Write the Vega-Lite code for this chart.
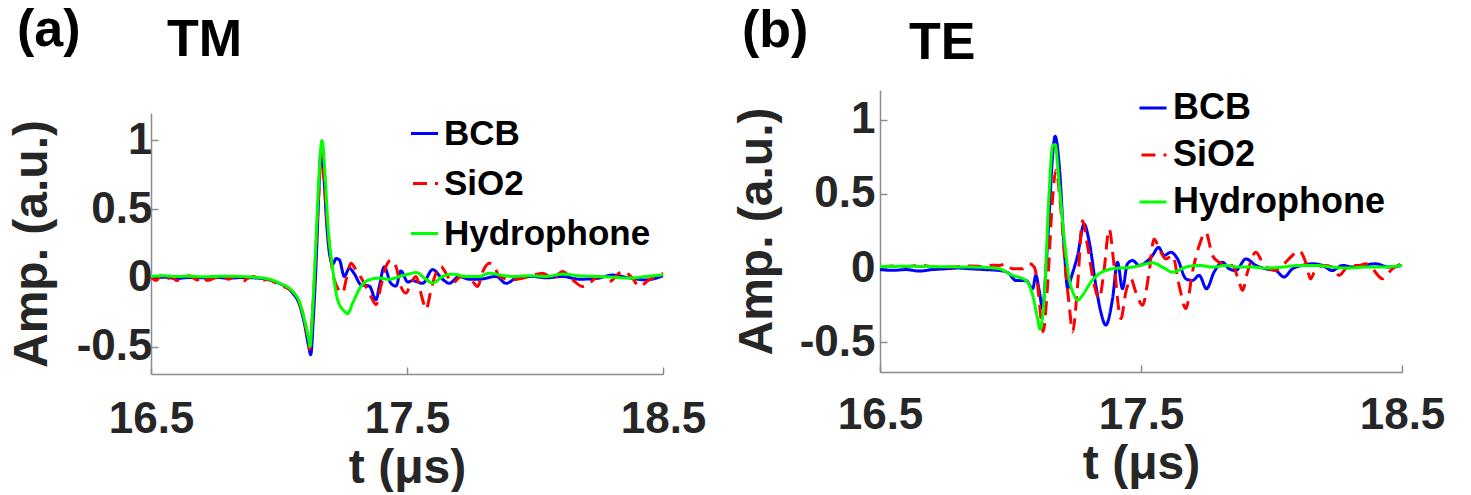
{
  "$schema": "https://vega.github.io/schema/vega-lite/v6.json",
  "background": "white",
  "padding": {"left": 8, "top": 3, "right": 0, "bottom": 0},
  "config": {
    "font": "Liberation Sans",
    "view": {"stroke": null},
    "axis": {"grid": false, "domainColor": "#8c8c8c", "domainWidth": 1.5, "tickColor": "#8c8c8c", "tickWidth": 1.5, "tickSize": -7, "labelFont": "Liberation Sans", "labelFontWeight": "bold", "labelFontSize": 44, "labelColor": "#262626", "titleFont": "Liberation Sans", "titleFontWeight": "bold", "titleFontSize": 48, "titleColor": "#262626", "labelFlush": false},
    "title": {"font": "Liberation Sans", "fontWeight": "bold", "fontSize": 52, "color": "#000000", "anchor": "start", "frame": "group", "baseline": "alphabetic"},
    "legend": {"symbolType": "stroke", "symbolSize": 729, "symbolStrokeWidth": 3, "symbolDashOffset": 20, "labelFont": "Liberation Sans", "labelFontWeight": "bold", "labelColor": "#000000", "labelOffset": 2, "labelLimit": 400, "padding": 0, "orient": "none"}
  },
  "datasets": {
    "tm": [
      {"s":"BCB","t":16.5,"v":0.0},{"s":"BCB","t":16.55,"v":0.005},{"s":"BCB","t":16.6,"v":-0.005},{"s":"BCB","t":16.65,"v":0.003},{"s":"BCB","t":16.7,"v":0.0},{"s":"BCB","t":16.75,"v":0.005},{"s":"BCB","t":16.8,"v":-0.003},{"s":"BCB","t":16.85,"v":0.002},{"s":"BCB","t":16.9,"v":0.0},{"s":"BCB","t":16.95,"v":-0.01},{"s":"BCB","t":16.98,"v":-0.025},{"s":"BCB","t":17.001,"v":-0.04},{"s":"BCB","t":17.053,"v":-0.11},{"s":"BCB","t":17.079,"v":-0.19},{"s":"BCB","t":17.099,"v":-0.33},{"s":"BCB","t":17.116,"v":-0.5},{"s":"BCB","t":17.124,"v":-0.56},{"s":"BCB","t":17.134,"v":-0.3},{"s":"BCB","t":17.147,"v":0.2},{"s":"BCB","t":17.155,"v":0.6},{"s":"BCB","t":17.164,"v":0.93},{"s":"BCB","t":17.175,"v":0.75},{"s":"BCB","t":17.186,"v":0.4},{"s":"BCB","t":17.197,"v":0.178},{"s":"BCB","t":17.21,"v":0.1},{"s":"BCB","t":17.223,"v":0.14},{"s":"BCB","t":17.236,"v":0.13},{"s":"BCB","t":17.255,"v":0.01},{"s":"BCB","t":17.275,"v":0.07},{"s":"BCB","t":17.294,"v":0.03},{"s":"BCB","t":17.32,"v":-0.05},{"s":"BCB","t":17.353,"v":-0.06},{"s":"BCB","t":17.379,"v":-0.16},{"s":"BCB","t":17.392,"v":-0.06},{"s":"BCB","t":17.411,"v":0.08},{"s":"BCB","t":17.437,"v":-0.04},{"s":"BCB","t":17.457,"v":-0.06},{"s":"BCB","t":17.476,"v":0.05},{"s":"BCB","t":17.503,"v":-0.03},{"s":"BCB","t":17.522,"v":-0.02},{"s":"BCB","t":17.561,"v":-0.04},{"s":"BCB","t":17.6,"v":0.06},{"s":"BCB","t":17.639,"v":-0.01},{"s":"BCB","t":17.665,"v":-0.04},{"s":"BCB","t":17.704,"v":0.01},{"s":"BCB","t":17.743,"v":-0.01},{"s":"BCB","t":17.782,"v":-0.01},{"s":"BCB","t":17.848,"v":0.01},{"s":"BCB","t":17.887,"v":-0.04},{"s":"BCB","t":17.939,"v":0.01},{"s":"BCB","t":17.991,"v":0.01},{"s":"BCB","t":18.043,"v":0.0},{"s":"BCB","t":18.108,"v":0.01},{"s":"BCB","t":18.173,"v":-0.01},{"s":"BCB","t":18.238,"v":-0.005},{"s":"BCB","t":18.303,"v":0.02},{"s":"BCB","t":18.368,"v":0.0},{"s":"BCB","t":18.434,"v":-0.015},{"s":"BCB","t":18.5,"v":0.015},
      {"s":"SiO2","t":16.5,"v":0.01},{"s":"SiO2","t":16.52,"v":-0.02},{"s":"SiO2","t":16.54,"v":0.02},{"s":"SiO2","t":16.56,"v":-0.01},{"s":"SiO2","t":16.58,"v":0.01},{"s":"SiO2","t":16.6,"v":-0.02},{"s":"SiO2","t":16.62,"v":0.0},{"s":"SiO2","t":16.65,"v":0.015},{"s":"SiO2","t":16.68,"v":-0.015},{"s":"SiO2","t":16.7,"v":0.01},{"s":"SiO2","t":16.72,"v":-0.02},{"s":"SiO2","t":16.75,"v":0.0},{"s":"SiO2","t":16.78,"v":0.02},{"s":"SiO2","t":16.8,"v":-0.01},{"s":"SiO2","t":16.83,"v":0.01},{"s":"SiO2","t":16.86,"v":-0.025},{"s":"SiO2","t":16.88,"v":0.0},{"s":"SiO2","t":16.9,"v":0.01},{"s":"SiO2","t":16.93,"v":-0.02},{"s":"SiO2","t":16.96,"v":-0.01},{"s":"SiO2","t":16.98,"v":-0.03},{"s":"SiO2","t":17.001,"v":-0.05},{"s":"SiO2","t":17.053,"v":-0.1},{"s":"SiO2","t":17.079,"v":-0.18},{"s":"SiO2","t":17.099,"v":-0.3},{"s":"SiO2","t":17.116,"v":-0.48},{"s":"SiO2","t":17.12,"v":-0.52},{"s":"SiO2","t":17.131,"v":-0.25},{"s":"SiO2","t":17.144,"v":0.2},{"s":"SiO2","t":17.155,"v":0.6},{"s":"SiO2","t":17.167,"v":0.92},{"s":"SiO2","t":17.177,"v":0.7},{"s":"SiO2","t":17.186,"v":0.45},{"s":"SiO2","t":17.197,"v":0.23},{"s":"SiO2","t":17.216,"v":-0.015},{"s":"SiO2","t":17.249,"v":-0.11},{"s":"SiO2","t":17.262,"v":-0.015},{"s":"SiO2","t":17.281,"v":0.106},{"s":"SiO2","t":17.301,"v":0.058},{"s":"SiO2","t":17.333,"v":-0.04},{"s":"SiO2","t":17.359,"v":-0.135},{"s":"SiO2","t":17.379,"v":-0.195},{"s":"SiO2","t":17.398,"v":-0.06},{"s":"SiO2","t":17.418,"v":0.082},{"s":"SiO2","t":17.437,"v":0.13},{"s":"SiO2","t":17.457,"v":0.082},{"s":"SiO2","t":17.476,"v":-0.063},{"s":"SiO2","t":17.496,"v":-0.11},{"s":"SiO2","t":17.516,"v":-0.038},{"s":"SiO2","t":17.535,"v":0.01},{"s":"SiO2","t":17.561,"v":-0.16},{"s":"SiO2","t":17.574,"v":-0.23},{"s":"SiO2","t":17.594,"v":-0.087},{"s":"SiO2","t":17.613,"v":0.034},{"s":"SiO2","t":17.633,"v":0.082},{"s":"SiO2","t":17.652,"v":0.034},{"s":"SiO2","t":17.678,"v":-0.038},{"s":"SiO2","t":17.711,"v":0.01},{"s":"SiO2","t":17.75,"v":-0.014},{"s":"SiO2","t":17.776,"v":-0.063},{"s":"SiO2","t":17.796,"v":0.046},{"s":"SiO2","t":17.822,"v":0.106},{"s":"SiO2","t":17.841,"v":0.082},{"s":"SiO2","t":17.861,"v":0.01},{"s":"SiO2","t":17.913,"v":-0.014},{"s":"SiO2","t":17.978,"v":0.01},{"s":"SiO2","t":18.03,"v":0.034},{"s":"SiO2","t":18.069,"v":-0.002},{"s":"SiO2","t":18.108,"v":0.046},{"s":"SiO2","t":18.147,"v":-0.014},{"s":"SiO2","t":18.186,"v":-0.063},{"s":"SiO2","t":18.212,"v":-0.038},{"s":"SiO2","t":18.251,"v":0.01},{"s":"SiO2","t":18.29,"v":-0.026},{"s":"SiO2","t":18.342,"v":0.046},{"s":"SiO2","t":18.381,"v":-0.002},{"s":"SiO2","t":18.407,"v":-0.063},{"s":"SiO2","t":18.446,"v":-0.014},{"s":"SiO2","t":18.5,"v":0.034},
      {"s":"Hydrophone","t":16.5,"v":0.01},{"s":"Hydrophone","t":16.55,"v":0.015},{"s":"Hydrophone","t":16.6,"v":0.01},{"s":"Hydrophone","t":16.65,"v":0.012},{"s":"Hydrophone","t":16.7,"v":0.008},{"s":"Hydrophone","t":16.75,"v":0.01},{"s":"Hydrophone","t":16.8,"v":0.012},{"s":"Hydrophone","t":16.85,"v":0.01},{"s":"Hydrophone","t":16.9,"v":0.005},{"s":"Hydrophone","t":16.95,"v":-0.005},{"s":"Hydrophone","t":16.98,"v":-0.02},{"s":"Hydrophone","t":17.001,"v":-0.038},{"s":"Hydrophone","t":17.053,"v":-0.099},{"s":"Hydrophone","t":17.079,"v":-0.171},{"s":"Hydrophone","t":17.099,"v":-0.303},{"s":"Hydrophone","t":17.116,"v":-0.447},{"s":"Hydrophone","t":17.121,"v":-0.5},{"s":"Hydrophone","t":17.131,"v":-0.25},{"s":"Hydrophone","t":17.144,"v":0.25},{"s":"Hydrophone","t":17.155,"v":0.7},{"s":"Hydrophone","t":17.168,"v":1.0},{"s":"Hydrophone","t":17.18,"v":0.75},{"s":"Hydrophone","t":17.19,"v":0.418},{"s":"Hydrophone","t":17.21,"v":0.058},{"s":"Hydrophone","t":17.229,"v":-0.159},{"s":"Hydrophone","t":17.255,"v":-0.243},{"s":"Hydrophone","t":17.268,"v":-0.26},{"s":"Hydrophone","t":17.288,"v":-0.183},{"s":"Hydrophone","t":17.32,"v":-0.063},{"s":"Hydrophone","t":17.353,"v":-0.014},{"s":"Hydrophone","t":17.392,"v":-0.002},{"s":"Hydrophone","t":17.431,"v":-0.01},{"s":"Hydrophone","t":17.47,"v":0.01},{"s":"Hydrophone","t":17.509,"v":0.029},{"s":"Hydrophone","t":17.535,"v":0.039},{"s":"Hydrophone","t":17.574,"v":-0.01},{"s":"Hydrophone","t":17.6,"v":-0.038},{"s":"Hydrophone","t":17.639,"v":0.01},{"s":"Hydrophone","t":17.678,"v":0.027},{"s":"Hydrophone","t":17.73,"v":0.01},{"s":"Hydrophone","t":17.782,"v":0.01},{"s":"Hydrophone","t":17.822,"v":0.034},{"s":"Hydrophone","t":17.861,"v":0.022},{"s":"Hydrophone","t":17.913,"v":0.01},{"s":"Hydrophone","t":17.978,"v":0.015},{"s":"Hydrophone","t":18.043,"v":0.01},{"s":"Hydrophone","t":18.108,"v":0.027},{"s":"Hydrophone","t":18.173,"v":0.015},{"s":"Hydrophone","t":18.238,"v":0.01},{"s":"Hydrophone","t":18.303,"v":0.005},{"s":"Hydrophone","t":18.368,"v":-0.002},{"s":"Hydrophone","t":18.434,"v":0.01},{"s":"Hydrophone","t":18.5,"v":0.022}
    ],
    "te": [
      {"s":"BCB","t":16.5,"v":-0.01},{"s":"BCB","t":16.55,"v":-0.015},{"s":"BCB","t":16.6,"v":-0.01},{"s":"BCB","t":16.65,"v":-0.02},{"s":"BCB","t":16.7,"v":-0.01},{"s":"BCB","t":16.75,"v":-0.005},{"s":"BCB","t":16.8,"v":0.0},{"s":"BCB","t":16.85,"v":-0.005},{"s":"BCB","t":16.9,"v":-0.01},{"s":"BCB","t":16.957,"v":-0.016},{"s":"BCB","t":16.989,"v":-0.03},{"s":"BCB","t":17.021,"v":-0.083},{"s":"BCB","t":17.059,"v":-0.083},{"s":"BCB","t":17.085,"v":-0.139},{"s":"BCB","t":17.097,"v":-0.049},{"s":"BCB","t":17.11,"v":-0.15},{"s":"BCB","t":17.123,"v":-0.273},{"s":"BCB","t":17.136,"v":0.0},{"s":"BCB","t":17.148,"v":0.353},{"s":"BCB","t":17.161,"v":0.75},{"s":"BCB","t":17.171,"v":0.888},{"s":"BCB","t":17.187,"v":0.687},{"s":"BCB","t":17.206,"v":0.129},{"s":"BCB","t":17.219,"v":-0.139},{"s":"BCB","t":17.231,"v":-0.072},{"s":"BCB","t":17.257,"v":0.085},{"s":"BCB","t":17.282,"v":0.297},{"s":"BCB","t":17.302,"v":0.174},{"s":"BCB","t":17.327,"v":-0.116},{"s":"BCB","t":17.346,"v":-0.295},{"s":"BCB","t":17.365,"v":-0.384},{"s":"BCB","t":17.391,"v":-0.206},{"s":"BCB","t":17.41,"v":0.04},{"s":"BCB","t":17.429,"v":-0.139},{"s":"BCB","t":17.448,"v":0.029},{"s":"BCB","t":17.468,"v":0.051},{"s":"BCB","t":17.493,"v":0.018},{"s":"BCB","t":17.519,"v":0.04},{"s":"BCB","t":17.544,"v":0.085},{"s":"BCB","t":17.567,"v":0.14},{"s":"BCB","t":17.589,"v":0.085},{"s":"BCB","t":17.614,"v":0.107},{"s":"BCB","t":17.64,"v":0.062},{"s":"BCB","t":17.672,"v":-0.072},{"s":"BCB","t":17.697,"v":-0.083},{"s":"BCB","t":17.723,"v":-0.049},{"s":"BCB","t":17.751,"v":-0.139},{"s":"BCB","t":17.78,"v":-0.027},{"s":"BCB","t":17.812,"v":0.04},{"s":"BCB","t":17.838,"v":-0.005},{"s":"BCB","t":17.863,"v":-0.016},{"s":"BCB","t":17.902,"v":0.062},{"s":"BCB","t":17.94,"v":0.018},{"s":"BCB","t":17.978,"v":-0.005},{"s":"BCB","t":18.016,"v":-0.016},{"s":"BCB","t":18.048,"v":-0.06},{"s":"BCB","t":18.08,"v":-0.005},{"s":"BCB","t":18.118,"v":0.018},{"s":"BCB","t":18.157,"v":0.029},{"s":"BCB","t":18.195,"v":0.018},{"s":"BCB","t":18.233,"v":-0.016},{"s":"BCB","t":18.272,"v":0.018},{"s":"BCB","t":18.31,"v":0.007},{"s":"BCB","t":18.348,"v":0.018},{"s":"BCB","t":18.399,"v":0.029},{"s":"BCB","t":18.45,"v":0.007},{"s":"BCB","t":18.5,"v":0.018},
      {"s":"SiO2","t":16.5,"v":0.01},{"s":"SiO2","t":16.55,"v":0.015},{"s":"SiO2","t":16.6,"v":0.01},{"s":"SiO2","t":16.65,"v":0.02},{"s":"SiO2","t":16.7,"v":0.01},{"s":"SiO2","t":16.75,"v":0.005},{"s":"SiO2","t":16.8,"v":0.01},{"s":"SiO2","t":16.85,"v":0.015},{"s":"SiO2","t":16.9,"v":0.01},{"s":"SiO2","t":16.93,"v":0.02},{"s":"SiO2","t":16.957,"v":0.018},{"s":"SiO2","t":16.983,"v":0.029},{"s":"SiO2","t":17.008,"v":-0.005},{"s":"SiO2","t":17.046,"v":-0.005},{"s":"SiO2","t":17.072,"v":0.029},{"s":"SiO2","t":17.091,"v":0.007},{"s":"SiO2","t":17.104,"v":-0.116},{"s":"SiO2","t":17.117,"v":-0.34},{"s":"SiO2","t":17.125,"v":-0.429},{"s":"SiO2","t":17.142,"v":-0.116},{"s":"SiO2","t":17.161,"v":0.464},{"s":"SiO2","t":17.174,"v":0.66},{"s":"SiO2","t":17.193,"v":0.397},{"s":"SiO2","t":17.212,"v":-0.027},{"s":"SiO2","t":17.225,"v":-0.25},{"s":"SiO2","t":17.238,"v":-0.429},{"s":"SiO2","t":17.257,"v":-0.116},{"s":"SiO2","t":17.276,"v":0.319},{"s":"SiO2","t":17.295,"v":0.152},{"s":"SiO2","t":17.321,"v":-0.116},{"s":"SiO2","t":17.34,"v":-0.206},{"s":"SiO2","t":17.359,"v":-0.005},{"s":"SiO2","t":17.378,"v":0.263},{"s":"SiO2","t":17.397,"v":0.018},{"s":"SiO2","t":17.423,"v":-0.34},{"s":"SiO2","t":17.442,"v":-0.161},{"s":"SiO2","t":17.461,"v":-0.072},{"s":"SiO2","t":17.48,"v":-0.161},{"s":"SiO2","t":17.506,"v":-0.25},{"s":"SiO2","t":17.531,"v":-0.027},{"s":"SiO2","t":17.55,"v":0.196},{"s":"SiO2","t":17.57,"v":0.129},{"s":"SiO2","t":17.595,"v":0.062},{"s":"SiO2","t":17.621,"v":0.085},{"s":"SiO2","t":17.646,"v":-0.116},{"s":"SiO2","t":17.672,"v":-0.273},{"s":"SiO2","t":17.697,"v":-0.027},{"s":"SiO2","t":17.723,"v":0.152},{"s":"SiO2","t":17.748,"v":0.241},{"s":"SiO2","t":17.774,"v":0.085},{"s":"SiO2","t":17.799,"v":0.04},{"s":"SiO2","t":17.825,"v":0.018},{"s":"SiO2","t":17.85,"v":0.018},{"s":"SiO2","t":17.876,"v":-0.094},{"s":"SiO2","t":17.889,"v":-0.15},{"s":"SiO2","t":17.908,"v":-0.027},{"s":"SiO2","t":17.94,"v":0.107},{"s":"SiO2","t":17.965,"v":0.04},{"s":"SiO2","t":17.991,"v":-0.005},{"s":"SiO2","t":18.016,"v":-0.016},{"s":"SiO2","t":18.042,"v":0.018},{"s":"SiO2","t":18.08,"v":0.085},{"s":"SiO2","t":18.106,"v":0.118},{"s":"SiO2","t":18.131,"v":0.04},{"s":"SiO2","t":18.15,"v":-0.072},{"s":"SiO2","t":18.17,"v":-0.005},{"s":"SiO2","t":18.208,"v":0.018},{"s":"SiO2","t":18.233,"v":0.007},{"s":"SiO2","t":18.259,"v":-0.049},{"s":"SiO2","t":18.297,"v":0.018},{"s":"SiO2","t":18.335,"v":0.018},{"s":"SiO2","t":18.361,"v":0.029},{"s":"SiO2","t":18.387,"v":-0.005},{"s":"SiO2","t":18.425,"v":-0.072},{"s":"SiO2","t":18.463,"v":-0.005},{"s":"SiO2","t":18.5,"v":0.029},
      {"s":"Hydrophone","t":16.5,"v":0.01},{"s":"Hydrophone","t":16.6,"v":0.012},{"s":"Hydrophone","t":16.7,"v":0.01},{"s":"Hydrophone","t":16.8,"v":0.008},{"s":"Hydrophone","t":16.9,"v":0.005},{"s":"Hydrophone","t":16.957,"v":-0.005},{"s":"Hydrophone","t":17.008,"v":-0.049},{"s":"Hydrophone","t":17.059,"v":-0.083},{"s":"Hydrophone","t":17.085,"v":-0.183},{"s":"Hydrophone","t":17.104,"v":-0.34},{"s":"Hydrophone","t":17.113,"v":-0.41},{"s":"Hydrophone","t":17.129,"v":-0.206},{"s":"Hydrophone","t":17.148,"v":0.509},{"s":"Hydrophone","t":17.161,"v":0.821},{"s":"Hydrophone","t":17.171,"v":0.832},{"s":"Hydrophone","t":17.187,"v":0.554},{"s":"Hydrophone","t":17.206,"v":0.196},{"s":"Hydrophone","t":17.225,"v":-0.072},{"s":"Hydrophone","t":17.244,"v":-0.183},{"s":"Hydrophone","t":17.257,"v":-0.217},{"s":"Hydrophone","t":17.276,"v":-0.183},{"s":"Hydrophone","t":17.308,"v":-0.094},{"s":"Hydrophone","t":17.34,"v":-0.038},{"s":"Hydrophone","t":17.378,"v":-0.009},{"s":"Hydrophone","t":17.417,"v":0.0},{"s":"Hydrophone","t":17.468,"v":0.007},{"s":"Hydrophone","t":17.519,"v":0.029},{"s":"Hydrophone","t":17.544,"v":0.036},{"s":"Hydrophone","t":17.582,"v":0.007},{"s":"Hydrophone","t":17.621,"v":-0.027},{"s":"Hydrophone","t":17.672,"v":0.007},{"s":"Hydrophone","t":17.723,"v":0.018},{"s":"Hydrophone","t":17.774,"v":0.007},{"s":"Hydrophone","t":17.825,"v":0.018},{"s":"Hydrophone","t":17.876,"v":0.007},{"s":"Hydrophone","t":17.927,"v":0.007},{"s":"Hydrophone","t":17.978,"v":0.0},{"s":"Hydrophone","t":18.042,"v":0.007},{"s":"Hydrophone","t":18.106,"v":0.018},{"s":"Hydrophone","t":18.17,"v":0.018},{"s":"Hydrophone","t":18.233,"v":0.007},{"s":"Hydrophone","t":18.297,"v":0.0},{"s":"Hydrophone","t":18.361,"v":0.007},{"s":"Hydrophone","t":18.425,"v":0.007},{"s":"Hydrophone","t":18.5,"v":0.018}
    ]
  },
  "resolve": {"scale": {"color": "independent", "strokeDash": "independent"}, "legend": {"color": "independent", "strokeDash": "independent"}},
  "spacing": 27,
  "hconcat": [
    {
      "bounds": "flush",
      "spacing": 33,
      "resolve": {"scale": {"color": "independent", "strokeDash": "independent"}, "legend": {"color": "independent", "strokeDash": "independent"}},
      "vconcat": [
        {
          "data": {"values": [{}]},
          "width": 512,
          "height": 1,
          "title": {"text": "(a)", "dx": -134, "offset": 20},
          "mark": {"type": "point", "opacity": 0},
          "encoding": {}
        },
        {
          "width": 512,
          "height": 261,
          "data": {"name": "tm"},
          "title": {"text": "TM", "dx": 16, "offset": 46},
          "mark": {"type": "line", "strokeWidth": 3, "interpolate": "monotone"},
          "encoding": {
            "x": {"field": "t", "type": "quantitative", "scale": {"domain": [16.5, 18.5], "nice": false, "zero": false}, "axis": {"values": [16.5, 17.5, 18.5], "title": "t (μs)", "labelExpr": "toString(datum.value)", "labelPadding": 30, "titlePadding": 3}},
            "y": {"field": "v", "type": "quantitative", "scale": {"domain": [-0.7, 1.2], "nice": false, "zero": false}, "axis": {"values": [-0.5, 0, 0.5, 1], "title": "Amp. (a.u.)", "labelExpr": "toString(datum.value)", "labelPadding": 6, "titlePadding": 20}},
            "color": {"field": "s", "type": "nominal", "scale": {"domain": ["BCB", "SiO2", "Hydrophone"], "range": ["#0000ff", "#ff0000", "#00ff00"]}, "legend": {"title": null, "orient": "none", "legendX": 256, "legendY": 3, "labelFontSize": 35, "rowPadding": 14}},
            "strokeDash": {"field": "s", "type": "nominal", "scale": {"domain": ["BCB", "SiO2", "Hydrophone"], "range": [[1, 0], [14, 8], [1, 0]]}, "legend": {"title": null, "orient": "none", "legendX": 256, "legendY": 3, "labelFontSize": 35, "rowPadding": 14}}
          }
        }
      ]
    },
    {
      "bounds": "flush",
      "spacing": 10,
      "resolve": {"scale": {"color": "independent", "strokeDash": "independent"}, "legend": {"color": "independent", "strokeDash": "independent"}},
      "vconcat": [
        {
          "data": {"values": [{}]},
          "width": 522,
          "height": 1,
          "title": {"text": "(b)", "dx": -138, "offset": 19},
          "mark": {"type": "point", "opacity": 0},
          "encoding": {}
        },
        {
          "width": 522,
          "height": 282,
          "data": {"name": "te"},
          "title": {"text": "TE", "dx": 29, "offset": 20},
          "mark": {"type": "line", "strokeWidth": 3, "interpolate": "monotone"},
          "encoding": {
            "x": {"field": "t", "type": "quantitative", "scale": {"domain": [16.5, 18.5], "nice": false, "zero": false}, "axis": {"values": [16.5, 17.5, 18.5], "title": "t (μs)", "labelExpr": "toString(datum.value)", "labelPadding": 28, "titlePadding": 3}},
            "y": {"field": "v", "type": "quantitative", "scale": {"domain": [-0.7, 1.2], "nice": false, "zero": false}, "axis": {"values": [-0.5, 0, 0.5, 1], "title": "Amp. (a.u.)", "labelExpr": "toString(datum.value)", "labelPadding": 12, "titlePadding": 18}},
            "color": {"field": "s", "type": "nominal", "scale": {"domain": ["BCB", "SiO2", "Hydrophone"], "range": ["#0000ff", "#ff0000", "#00ff00"]}, "legend": {"title": null, "orient": "none", "legendX": 255, "legendY": 0, "labelFontSize": 36, "rowPadding": 11}},
            "strokeDash": {"field": "s", "type": "nominal", "scale": {"domain": ["BCB", "SiO2", "Hydrophone"], "range": [[1, 0], [14, 8], [1, 0]]}, "legend": {"title": null, "orient": "none", "legendX": 255, "legendY": 0, "labelFontSize": 36, "rowPadding": 11}}
          }
        }
      ]
    }
  ]
}
